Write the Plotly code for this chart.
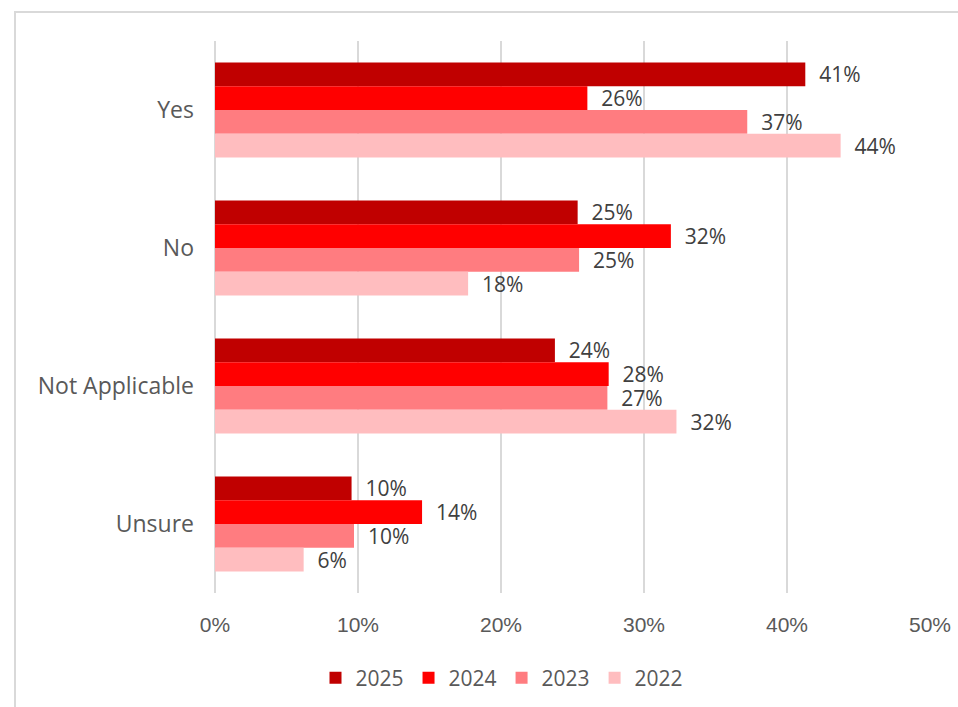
import plotly.graph_objects as go

# Survey responses by year (share of respondents)
categories = ["Yes", "No", "Not Applicable", "Unsure"]
years = ["2025", "2024", "2023", "2022"]
share_2025 = [0.4128, 0.2536, 0.2377, 0.0955]
share_2024 = [0.2604, 0.3188, 0.2753, 0.1448]
share_2023 = [0.3722, 0.2546, 0.2744, 0.0972]
share_2022 = [0.4375, 0.1770, 0.3227, 0.0620]
series = [share_2025, share_2024, share_2023, share_2022]
colors = ["#C00000", "#FF0000", "#FF7C80", "#FFBDBF"]

x_ticks = [0, 0.1, 0.2, 0.3, 0.4, 0.5]
x_tick_labels = ["0%", "10%", "20%", "30%", "40%", "50%"]

W, H = 958, 707
label_font = "Open Sans, Noto Sans, sans-serif"

fig = go.Figure()
for year, vals, col in zip(years, series, colors):
    fig.add_trace(go.Bar(
        y=categories,
        x=vals,
        name=year,
        orientation="h",
        marker=dict(color=col, line=dict(width=0)),
        texttemplate="\u00a0\u00a0%{x:.0%}",
        textposition="outside",
        constraintext="none",
        textfont=dict(family=label_font, size=21, color="#404040"),
        cliponaxis=False,
        hoverinfo="skip",
    ))

fig.update_layout(
    width=W,
    height=H,
    barmode="group",
    bargap=0.31,
    bargroupgap=0,
    plot_bgcolor="white",
    paper_bgcolor="white",
    margin=dict(l=215, r=28, t=41, b=114, autoexpand=False),
    showlegend=True,
    legend=dict(
        orientation="h",
        x=(502 - 215) / (W - 215 - 28),
        xanchor="center",
        y=-(678 - 593) / (593 - 41),
        yanchor="middle",
        font=dict(family=label_font, size=21, color="#595959"),
        itemwidth=30,
        traceorder="normal",
    ),
    xaxis=dict(
        range=[0, 0.5],
        tickvals=x_ticks,
        ticktext=x_tick_labels,
        showgrid=True,
        gridcolor="#D9D9D9",
        gridwidth=1.5,
        zeroline=True,
        zerolinecolor="#D9D9D9",
        zerolinewidth=1.5,
        showline=False,
        ticks="",
        automargin=False,
        ticklabelstandoff=17,
        tickfont=dict(family="Liberation Sans, Arial, sans-serif", size=21, color="#595959"),
    ),
    yaxis=dict(
        categoryorder="array",
        categoryarray=categories,
        autorange="reversed",
        showgrid=False,
        zeroline=False,
        showline=False,
        ticks="",
        automargin=False,
        ticklabelstandoff=20,
        tickfont=dict(family=label_font, size=23, color="#595959"),
    ),
)

# Outer chart frame (left and top edges visible)
fig.add_shape(
    type="rect", xref="paper", yref="paper",
    x0=-(215 - 15) / (W - 215 - 28), x1=1.2,
    y0=-0.3, y1=1 + (41 - 12) / (593 - 41),
    line=dict(color="#D9D9D9", width=2),
    fillcolor="rgba(0,0,0,0)",
    layer="below",
)

fig.write_html("out.html")
